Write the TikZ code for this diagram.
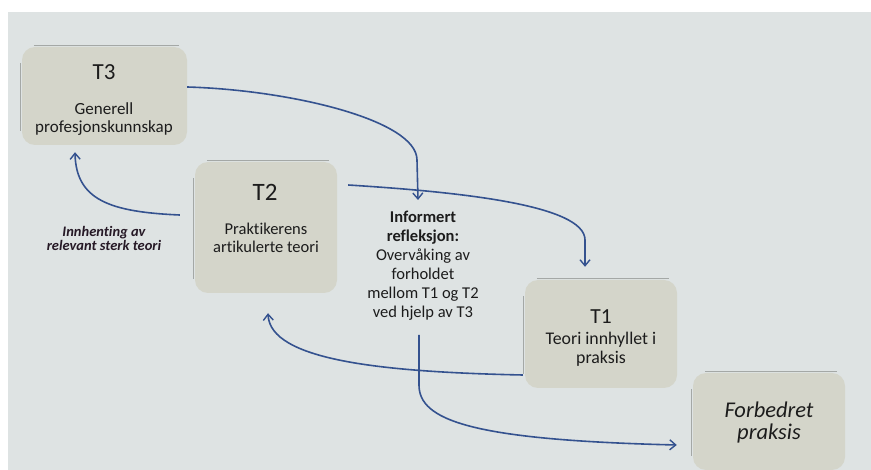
\documentclass[tikz,border=0pt]{standalone}
\usepackage{fontspec}
\setmainfont{Carlito}[Ligatures=CommonOff]
\usetikzlibrary{arrows.meta,calc}
\definecolor{bgc}{HTML}{DEE3E3}
\definecolor{boxc}{HTML}{D4D5CA}
\definecolor{edgec}{HTML}{A4A8A6}
\definecolor{arrc}{HTML}{34528F}
\definecolor{txt}{HTML}{1C1C1C}
\begin{document}
\begin{tikzpicture}[x=1pt,y=-1pt,
  box/.style={rectangle,rounded corners=13pt,fill=boxc,inner sep=0pt},
  edgeline/.style={draw=edgec,line width=0.7pt},
  ttl/.style={text=txt,inner sep=0pt,font=\fontsize{#1}{#1}\selectfont},
  body/.style={text=txt,inner sep=0pt,align=center,font=\fontsize{#1}{18.5}\selectfont},
  inftext/.style={text=txt,inner sep=0pt,align=center,font=\fontsize{16.5}{19}\selectfont},
  lab/.style={text=txt!90!violet,inner sep=0pt,align=center,font=\fontsize{14.5}{14}\selectfont\bfseries\itshape},
  fptext/.style={text=txt,inner sep=0pt,align=center,font=\fontsize{22.5}{22}\selectfont\itshape},
  arr/.style={draw=arrc,line width=1.6pt,-{Straight Barb[length=6pt,width=10pt,line width=1.4pt]}}]
\fill[white] (0,0) rectangle (871,470);
\fill[bgc] (8,12) rectangle (871,470);
\useasboundingbox (0,0) rectangle (871,470);

% boxes
\node[box,minimum width=165pt,minimum height=98pt] (T3) at (104.5,96) {};
\node[box,minimum width=142pt,minimum height=131pt] (T2) at (266,227.5) {};
\node[box,minimum width=152pt,minimum height=108pt] (T1) at (601,334) {};
\node[box,minimum width=152pt,minimum height=97pt] (FP) at (769,421.5) {};

\foreach \b in {T3,T2,T1,FP}{
  \draw[edgeline] ([xshift=12pt,yshift=1.5pt]\b.north west) -- ([xshift=-8pt,yshift=1.5pt]\b.north east);
  \draw[edgeline] ([xshift=-1.5pt,yshift=-16pt]\b.north west) -- ([xshift=-1.5pt,yshift=14pt]\b.south west);
}

% texts
\node[ttl=23] (T3t) at (104,72) {T3};
\node[body=17] (T3b) at (104,119) {Generell\\profesjonskunnskap};
\node[ttl=25] (T2t) at (265,192.5) {T2};
\node[body=16.5] (T2b) at (266,238) {Praktikerens\\artikulerte teori};
\node[ttl=21.5] (T1t) at (601,317) {T1};
\node[body=17.8] (T1b) at (601,349.5) {Teori innhyllet i\\praksis};
\node[fptext] (FPt) at (769,423) {Forbedret\\praksis};
\node[inftext] (inf) at (423,266) {\textbf{Informert}\\\textbf{refleksjon:}\\Overvåking av\\forholdet\\mellom T1 og T2\\ved hjelp av T3};
\node[lab] (lab) at (104,238) {Innhenting av\\relevant sterk teori};

\coordinate (infin) at (418,200);
\coordinate (infout) at (419,335);

% connectors
\draw[arr] ([yshift=9pt]T3.east) .. controls (290,90) and (417,120) .. (417,160) -- (infin);
\draw[arr] ([xshift=11pt,yshift=42.5pt]T2.east) .. controls (460,192) and (585,205) .. (585,240) -- ([xshift=-16pt,yshift=13pt]T1.north);
\draw[arr] ([xshift=-2pt,yshift=-41pt]T1.west) .. controls (380,372) and (270,360) .. ([xshift=2pt,yshift=-20pt]T2.south);
\draw[arr] ([xshift=-15pt,yshift=12.5pt]T2.west) .. controls (110,212) and (76,200) .. ([xshift=-29.5pt,yshift=-7pt]T3.south);
\draw[arr] (infout) -- (419,385) .. controls (419,420) and (470,440) .. ([xshift=-16pt,yshift=-23.5pt]FP.west);
\end{tikzpicture}
\end{document}
